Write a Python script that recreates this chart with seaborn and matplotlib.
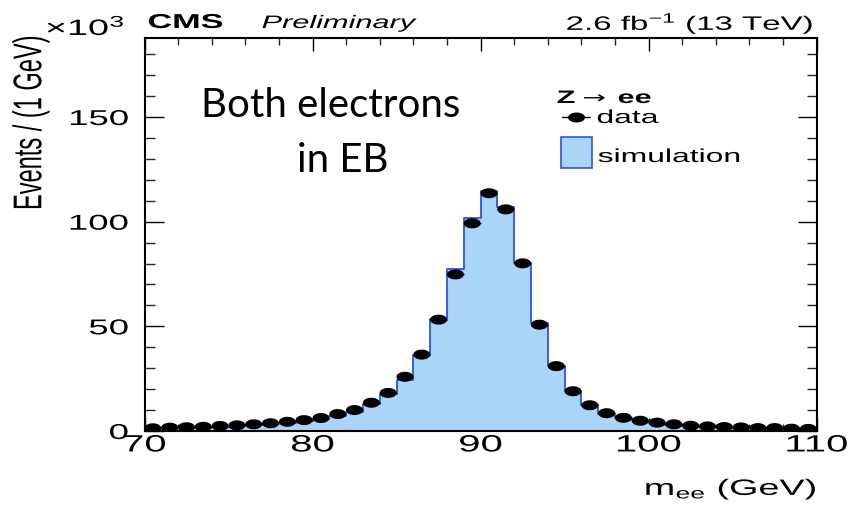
import numpy as np
import pandas as pd
import matplotlib
matplotlib.use("Agg")
import matplotlib.pyplot as plt
import seaborn as sns
from matplotlib.patheffects import AbstractPathEffect
from matplotlib.transforms import Affine2D
from matplotlib.lines import Line2D
from matplotlib.patches import Rectangle
from matplotlib.ticker import FixedLocator, MultipleLocator

# Z -> ee invariant mass, 1 GeV bins from 70 to 110 GeV (events in thousands)
mass_centers = [70.5, 71.5, 72.5, 73.5, 74.5, 75.5, 76.5, 77.5, 78.5, 79.5,
                80.5, 81.5, 82.5, 83.5, 84.5, 85.5, 86.5, 87.5, 88.5, 89.5,
                90.5, 91.5, 92.5, 93.5, 94.5, 95.5, 96.5, 97.5, 98.5, 99.5,
                100.5, 101.5, 102.5, 103.5, 104.5, 105.5, 106.5, 107.5, 108.5, 109.5]
data_counts = [1.3, 1.6, 1.8, 2.0, 2.4, 2.7, 3.2, 3.7, 4.4, 5.2,
               6.2, 8.1, 10.0, 13.5, 18.2, 25.9, 36.5, 53.2, 74.8, 99.2,
               113.6, 105.9, 80.1, 50.8, 31.0, 19.0, 12.3, 8.5, 6.3, 4.9,
               4.0, 3.2, 2.5, 2.2, 1.9, 1.7, 1.4, 1.4, 1.1, 1.0]
sim_counts = [1.2, 1.4, 1.6, 1.8, 2.1, 2.4, 2.8, 3.3, 3.9, 4.6,
              5.6, 7.3, 9.3, 12.7, 17.5, 24.6, 36.5, 53.7, 77.5, 101.6,
              114.8, 106.8, 80.3, 51.8, 31.1, 19.2, 12.2, 8.1, 6.1, 4.8,
              3.8, 3.1, 2.5, 2.1, 1.8, 1.6, 1.4, 1.2, 1.1, 1.0]

x_ticks = [70, 80, 90, 100, 110]
y_ticks = [0, 50, 100, 150]

df = pd.DataFrame({"mass": mass_centers, "data": data_counts, "sim": sim_counts})

W, H = 850, 509
FILL = "#aad5f9"
EDGE = "#2b55dc"
STRETCH = 1.7


class Widen(AbstractPathEffect):
    """Draw text glyphs widened horizontally about a chosen anchor."""

    def __init__(self, factor=STRETCH, anchor="center"):
        super().__init__((0, 0))
        self.factor = factor
        self.anchor = anchor

    def draw_path(self, renderer, gc, tpath, affine, rgbFace=None):
        ext = affine.transform_path(tpath).get_extents()
        cx = {"left": ext.x0, "center": 0.5 * (ext.x0 + ext.x1), "right": ext.x1}[self.anchor]
        t = affine + Affine2D().translate(-cx, 0).scale(self.factor, 1).translate(cx, 0)
        renderer.draw_path(gc, tpath, t, rgbFace)


def fx(px):
    return px / W


def fy(py):
    return 1 - py / H


sns.set_theme(style="white")
plt.rcParams["font.family"] = ["Liberation Sans", "DejaVu Sans"]
plt.rcParams["mathtext.fontset"] = "custom"
plt.rcParams["mathtext.rm"] = "Liberation Sans"
plt.rcParams["mathtext.it"] = "Liberation Sans:italic"
plt.rcParams["mathtext.bf"] = "Liberation Sans:bold"
plt.rcParams["mathtext.sf"] = "Liberation Sans"

fig = plt.figure(figsize=(W / 100, H / 100), dpi=100)
fig.patch.set_facecolor("white")
ax = fig.add_axes([fx(144.5), fy(431), fx(816.7) - fx(144.5), fy(37.5) - fy(431)])
ax.set_facecolor("white")

# simulation histogram
sns.histplot(data=df, x="mass", weights="sim", bins=40, binrange=(70, 110),
             element="step", fill=True, color=FILL, alpha=1.0,
             edgecolor=EDGE, linewidth=1.3, ax=ax, zorder=1)

# data points with bin-width horizontal bars
ax.errorbar(df["mass"], df["data"], xerr=0.5, fmt="none", ecolor="black",
            elinewidth=1.0, capsize=0, zorder=2)
theta = np.linspace(0, 2 * np.pi, 40)
ellipse = np.column_stack([STRETCH * np.cos(theta), np.sin(theta)])
sns.scatterplot(data=df, x="mass", y="data", marker=ellipse, s=150,
                color="black", edgecolor="none", linewidth=0, ax=ax, zorder=3)

ax.set_xlim(70, 110)
ax.set_ylim(0, 188)
ax.set_xlabel("")
ax.set_ylabel("")
ax.xaxis.set_major_locator(FixedLocator(x_ticks))
ax.xaxis.set_minor_locator(MultipleLocator(2))
ax.yaxis.set_major_locator(FixedLocator(y_ticks))
ax.yaxis.set_minor_locator(MultipleLocator(10))
ax.set_xticks(x_ticks)
ax.set_xticklabels([str(v) for v in x_ticks])
ax.set_yticks(y_ticks)
ax.set_yticklabels([str(v) for v in y_ticks])

for sp in ax.spines.values():
    sp.set_linewidth(1.5)
    sp.set_color("black")
    sp.set_visible(True)

ax.tick_params(axis="x", which="major", direction="in", length=9.5, width=1.0,
               top=True, bottom=True, labelsize=17, pad=2.5, colors="black")
ax.tick_params(axis="x", which="minor", direction="in", length=5, width=1.0,
               top=True, bottom=True)
ax.tick_params(axis="y", which="major", direction="in", length=13.7, width=1.0,
               left=True, right=True, labelsize=15.5, pad=11.5, colors="black")
ax.tick_params(axis="y", which="minor", direction="in", length=7.2, width=1.0,
               left=True, right=True)

for lbl in ax.get_xticklabels():
    lbl.set_path_effects([Widen(anchor="center")])
for lbl in ax.get_yticklabels():
    lbl.set_path_effects([Widen(anchor="right")])


def root_text(px, py, s, anchor="left", **kw):
    t = fig.text(fx(px), fy(py), s, ha=anchor, va="baseline", color="black", **kw)
    t.set_path_effects([Widen(anchor=anchor)])
    return t


# header
root_text(46, 35, "×10$^{3}$", fontsize=16)
root_text(148, 28, "CMS", fontsize=14.5, fontweight="bold")
root_text(262, 28, "Preliminary", fontsize=13, fontstyle="italic")
root_text(814, 30, "2.6 fb$^{-1}$ (13 TeV)", anchor="right", fontsize=14)

# axis titles
root_text(817, 495, "m$_{\\mathrm{ee}}$ (GeV)", anchor="right", fontsize=16)
ylab = fig.text(fx(31), fy(35), "Events / (1 GeV)", rotation=90, ha="center",
                va="top", fontsize=17, color="black")
ylab.set_path_effects([Widen(anchor="center")])

# legend
root_text(557, 103, "Z", fontsize=13, fontweight="bold")
root_text(583, 103, "→", fontsize=12, family=["DejaVu Sans"])
root_text(618, 103, "ee", fontsize=13, fontweight="bold")
fig.add_artist(Line2D([fx(562), fx(590)], [fy(117), fy(117)], color="black",
                      lw=1.0, transform=fig.transFigure))
fig.add_artist(Line2D([fx(576)], [fy(117)], marker=ellipse, markersize=12.2,
                      color="black", mec="none", transform=fig.transFigure))
root_text(597, 123, "data", fontsize=13.5)
fig.add_artist(Rectangle((fx(561), fy(168)), fx(592) - fx(561), fy(137) - fy(168),
                         facecolor=FILL, edgecolor=EDGE, lw=1.2,
                         transform=fig.transFigure))
root_text(598, 162, "simulation", fontsize=13.5)

# region annotation
fig.text(fx(331), fy(117), "Both electrons", ha="center", va="baseline",
         fontsize=29, family=["Lato", "DejaVu Sans"], color="black")
fig.text(fx(343), fy(172), "in EB", ha="center", va="baseline",
         fontsize=29, family=["Lato", "DejaVu Sans"], color="black")

fig.savefig("out.png", dpi=100, facecolor="white")
